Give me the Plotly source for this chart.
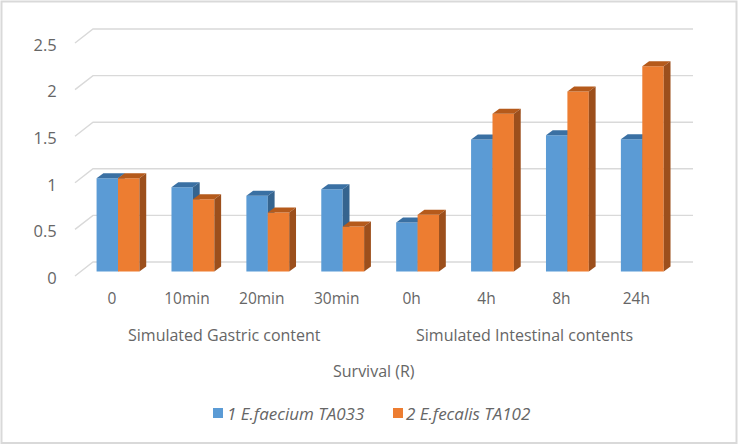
import plotly.graph_objects as go

categories = ["0", "10min", "20min", "30min", "0h", "4h", "8h", "24h"]
series_1_name = "1 E.faecium TA033"
series_2_name = "2 E.fecalis TA102"
series_1 = [1.0, 0.905, 0.812, 0.883, 0.526, 1.416, 1.463, 1.42]
series_2 = [1.0, 0.776, 0.633, 0.483, 0.608, 1.692, 1.931, 2.203]
y_ticks = [0, 0.5, 1, 1.5, 2, 2.5]
y_tick_labels = ["0", "0.5", "1", "1.5", "2", "2.5"]
group_labels = ["Simulated Gastric content", "Simulated Intestinal contents"]
axis_title = "Survival (R)"

W, H = 739, 445
ML, MR, MT, MB = 70, 39, 10, 162
PX_X = 74.9
PX_Y = 93.2
X0_PX = 118.0
Y0_PX = 271.5
WALL_Y0_PX = 276.0
TEXT = "#666666"
FONT = "Open Sans"
GRID = "#d9d9d9"
BLUE = "#5b9bd5"
ORANGE = "#ed7d31"

xr = [(ML - X0_PX) / PX_X, (W - MR - X0_PX) / PX_X]
yr = [(Y0_PX - (H - MB)) / PX_Y, (Y0_PX - MT) / PX_Y]
yr_wall = [(WALL_Y0_PX - (H - MB)) / PX_Y, (WALL_Y0_PX - MT) / PX_Y]

BAR_W = 0.286
DX = 6.8 / PX_X
DY = 5.0 / PX_Y

fig = go.Figure()

# wall gridlines (front-left corner -> back-left -> back-right), lowest layer
wall_front_x = (75 - X0_PX) / PX_X
wall_back_x = (93 - X0_PX) / PX_X
wall_right_x = (693 - X0_PX) / PX_X
wall_back_dy = 14.0 / PX_Y
for t in y_ticks:
    fig.add_trace(go.Scatter(
        x=[wall_front_x, wall_back_x, wall_right_x],
        y=[t, t + wall_back_dy, t + wall_back_dy],
        mode="lines", line=dict(color=GRID, width=1.4),
        showlegend=False, hoverinfo="skip"))


def add_series(values, name, front, top, side, offset, xa, ya):
    x = list(range(len(values)))
    fig.add_trace(go.Bar(x=x, y=values, name=name, width=BAR_W, offset=offset,
                         marker=dict(color=front, line=dict(width=0)),
                         showlegend=False, xaxis=xa, yaxis=ya))
    for i, v in zip(x, values):
        l = i + offset
        r = l + BAR_W
        fig.add_trace(go.Scatter(
            x=[l, r, r + DX, l + DX, l], y=[v, v, v + DY, v + DY, v],
            mode="lines", fill="toself", fillcolor=top, line=dict(width=0),
            showlegend=False, hoverinfo="skip", xaxis=xa, yaxis=ya))
        fig.add_trace(go.Scatter(
            x=[r, r + DX, r + DX, r, r], y=[0, DY, v + DY, v, 0],
            mode="lines", fill="toself", fillcolor=side, line=dict(width=0),
            showlegend=False, hoverinfo="skip", xaxis=xa, yaxis=ya))


add_series(series_1, series_1_name, BLUE, "#3a70a3", "#35648f", -BAR_W, "x2", "y2")
add_series(series_2, series_2_name, ORANGE, "#b55a1b", "#9c4f1c", 0, "x3", "y3")


def px(p):
    return (p - ML) / (W - ML - MR)


def py(p):
    return (H - MB - p) / (H - MT - MB)


annots = [
    (224.5, 335, group_labels[0]),
    (524, 335, group_labels[1]),
    (374, 371, axis_title),
]
annotations = [dict(x=px(a), y=py(b), xref="paper", yref="paper", text=t, showarrow=False,
                    xanchor="center", yanchor="middle", font=dict(size=16, color=TEXT))
               for a, b, t in annots]
shapes = [dict(type="rect", xref="paper", yref="paper", x0=px(1.5), x1=px(736.5),
               y0=py(443), y1=py(1.5), line=dict(color=GRID, width=2), fillcolor="rgba(0,0,0,0)")]

# legend row
for swatch_x, text_x, label, color in [(213, 225, series_1_name, BLUE),
                                       (393, 404, series_2_name, ORANGE)]:
    shapes.append(dict(type="rect", xref="paper", yref="paper", x0=px(swatch_x), x1=px(swatch_x + 10),
                       y0=py(418), y1=py(408), line=dict(width=0), fillcolor=color))
    annotations.append(dict(x=px(text_x), y=py(413), xref="paper", yref="paper", text=f"<i>{label}</i>",
                            showarrow=False, xanchor="left", yanchor="middle",
                            font=dict(size=17, color=TEXT)))

fig.update_layout(
    width=W, height=H, autosize=False, showlegend=False,
    margin=dict(l=ML, r=MR, t=MT, b=MB, pad=0),
    paper_bgcolor="white", plot_bgcolor="white",
    font=dict(family=FONT, color=TEXT, size=15),
    xaxis=dict(range=xr, tickmode="array", tickvals=list(range(len(categories))),
               ticktext=categories, showgrid=False, zeroline=False, showline=False,
               ticks="outside", ticklen=1, tickcolor="rgba(0,0,0,0)", ticklabelshift=-6,
               tickfont=dict(size=15.5, color=TEXT)),
    yaxis=dict(range=yr_wall, tickmode="array", tickvals=y_ticks, ticktext=y_tick_labels,
               showgrid=False, zeroline=False, showline=False, ticks="outside", ticklen=9,
               tickcolor="rgba(0,0,0,0)", ticklabelshift=2, tickfont=dict(size=16.5, color=TEXT)),
    xaxis2=dict(range=xr, overlaying="x", visible=False),
    yaxis2=dict(range=yr, overlaying="y", visible=False),
    xaxis3=dict(range=xr, overlaying="x", visible=False),
    yaxis3=dict(range=yr, overlaying="y", visible=False),
    annotations=annotations,
    shapes=shapes,
)

fig.write_html("out.html", post_script="document.body.style.margin='0';",
               config={"displayModeBar": False})
